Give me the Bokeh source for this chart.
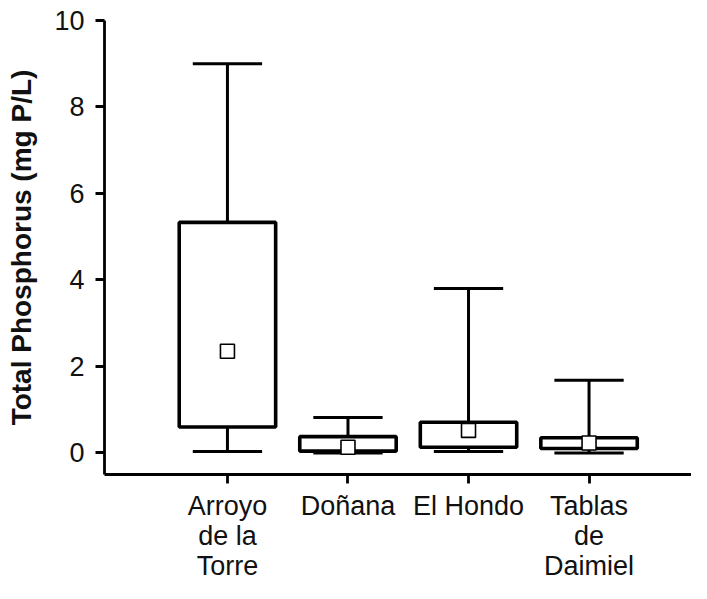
from bokeh.embed import file_html
from bokeh.models import FixedTicker
from bokeh.plotting import figure
from bokeh.resources import INLINE

# Box-plot summary per wetland
sites = ["Arroyo\nde la\nTorre", "Doñana", "El Hondo", "Tablas\nde\nDaimiel"]
whisker_low = [0.03, 0.0, 0.03, 0.0]
q1 = [0.60, 0.04, 0.13, 0.10]
q3 = [5.33, 0.375, 0.71, 0.35]
whisker_high = [9.0, 0.82, 3.80, 1.68]
means = [2.35, 0.13, 0.52, 0.23]
y_ticks = [0, 2, 4, 6, 8, 10]

FONT = "Liberation Sans"
xs = list(range(1, len(sites) + 1))
box_w = 0.80
cap_w = 0.575

p = figure(
    width=691,
    height=583,
    x_range=(-0.02, 4.85),
    y_range=(-0.5, 10),
    output_backend="svg",
    toolbar_location=None,
    min_border_left=104,
    min_border_right=0,
    min_border_top=20,
    min_border_bottom=100,
)
p.outline_line_color = None
p.xgrid.visible = False
p.ygrid.visible = False

# whisker stems
p.segment(x0=xs, y0=q3, x1=xs, y1=whisker_high, line_color="black", line_width=3)
p.segment(x0=xs, y0=whisker_low, x1=xs, y1=q1, line_color="black", line_width=3)

# boxes
p.quad(
    left=[x - box_w / 2 for x in xs],
    right=[x + box_w / 2 for x in xs],
    bottom=q1,
    top=q3,
    fill_color="white",
    line_color="black",
    line_width=3.6,
)

# whisker caps
p.segment(x0=[x - cap_w / 2 for x in xs], y0=whisker_high,
          x1=[x + cap_w / 2 for x in xs], y1=whisker_high,
          line_color="black", line_width=3)
p.segment(x0=[x - cap_w / 2 for x in xs], y0=whisker_low,
          x1=[x + cap_w / 2 for x in xs], y1=whisker_low,
          line_color="black", line_width=3)

# means
p.scatter(xs, means, marker="square", size=14, fill_color="white",
          line_color="black", line_width=1.6)

for ax in (p.xaxis, p.yaxis):
    ax.axis_line_width = 2.8
    ax.axis_line_color = "black"
    ax.major_tick_line_width = 2.8
    ax.major_tick_line_color = "black"
    ax.major_tick_in = 0
    ax.major_tick_out = 9
    ax.minor_tick_line_color = None
    ax.major_label_text_font = FONT
    ax.major_label_text_font_size = "27px"
    ax.major_label_text_color = "#111111"

p.xaxis.ticker = FixedTicker(ticks=xs)
p.xaxis.major_label_overrides = {x: s for x, s in zip(xs, sites)}
p.xaxis.major_label_standoff = 7
p.xaxis.major_label_text_line_height = 1.0

p.yaxis.ticker = FixedTicker(ticks=y_ticks)
p.yaxis.major_label_standoff = 11
p.yaxis.axis_label = "Total Phosphorus (mg P/L)"
p.yaxis.axis_label_text_font = FONT
p.yaxis.axis_label_text_font_style = "bold"
p.yaxis.axis_label_text_font_size = "28px"
p.yaxis.axis_label_text_color = "#111111"
p.yaxis.axis_label_standoff = 14

open("out.html", "w").write(file_html(p, INLINE))
